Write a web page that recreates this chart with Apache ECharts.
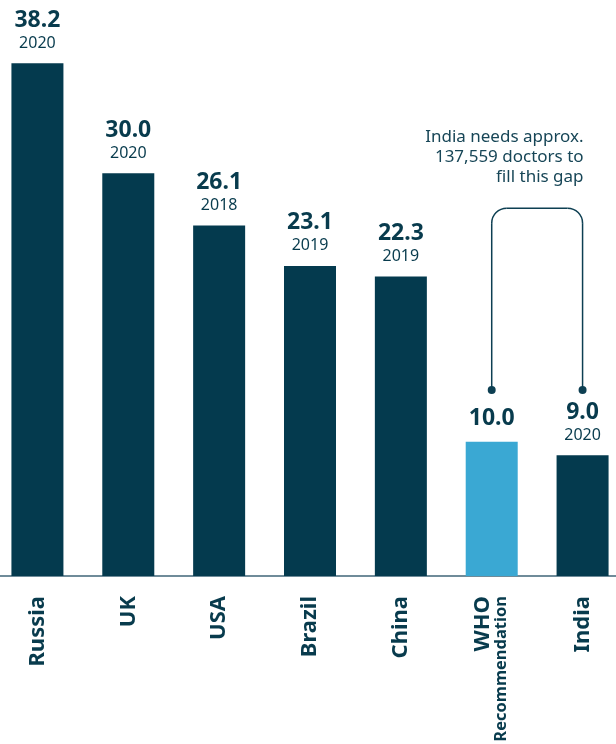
<!DOCTYPE html>
<html>
<head>
<meta charset="utf-8">
<script src="https://cdn.jsdelivr.net/npm/echarts@6/dist/echarts.min.js"></script>
<style>
  html, body { margin: 0; padding: 0; background: #fff; }
  #main { width: 616px; height: 744px; }
</style>
</head>
<body>
<div id="main"></div>
<script>
// doctors per 10,000 people
var countries = ['Russia', 'UK', 'USA', 'Brazil', 'China', 'WHO', 'India'];
var values = [38.2, 30.0, 26.1, 23.1, 22.3, 10.0, 9.0];
var years = ['2020', '2020', '2018', '2019', '2019', '', '2020'];
var note_lines = ['India needs approx.', '137,559 doctors to', 'fill this gap'];

var dark = '#043a4e';
var light = '#3aa8d3';
var text_col = '#083b4d';
var line_col = '#0d3f52';

var chart = echarts.init(document.getElementById('main'));

var bar_data = [];
for (var i = 0; i < values.length; i++) {
    bar_data.push({
        value: values[i],
        itemStyle: { color: countries[i] === 'WHO' ? light : dark }
    });
}

var option = {
    animation: false,
    grid: { left: -8, right: -12, top: 39, bottom: 168, containLabel: false, outerBoundsMode: 'none' },
    xAxis: {
        type: 'category',
        data: countries,
        axisLine: { lineStyle: { color: '#3f6577', width: 1.5 } },
        axisTick: { show: false },
        axisLabel: {
            rotate: 90,
            margin: 20,
            interval: 0,
            color: text_col,
            fontFamily: 'Noto Sans',
            fontWeight: 'bold',
            fontSize: 22,
            formatter: function (v) {
                if (v === 'WHO') return '{a|WHO}\n{b|Recommendation}';
                return v;
            },
            rich: {
                a: { fontFamily: 'Noto Sans', fontWeight: 'bold', fontSize: 22, color: text_col, lineHeight: 20 },
                b: { fontFamily: 'Noto Sans', fontWeight: 'bold', fontSize: 16.5, color: text_col, lineHeight: 18 }
            }
        }
    },
    yAxis: {
        type: 'value',
        min: 0,
        max: 40,
        show: false,
        splitLine: { show: false }
    },
    series: [{
        type: 'bar',
        barWidth: 52,
        data: bar_data,
        label: {
            show: true,
            position: 'top',
            distance: 10,
            formatter: function (p) {
                var y = years[p.dataIndex];
                var s = '{v|' + values[p.dataIndex].toFixed(1) + '}';
                if (y) s += '\n{y|' + y + '}';
                return s;
            },
            rich: {
                v: { fontFamily: 'Noto Sans', fontWeight: 'bold', fontSize: 23, color: text_col, lineHeight: 26, align: 'center' },
                y: { fontFamily: 'Noto Sans', fontSize: 16, color: text_col, lineHeight: 20, align: 'center' }
            }
        }
    }]
};
chart.setOption(option);

// bracket annotation between WHO and India, placed through the axes
var top_val = 27.4, dot_val = 13.85, note_val = 33.45;
var pa = chart.convertToPixel({ seriesIndex: 0 }, ['WHO', dot_val]);
var pb = chart.convertToPixel({ seriesIndex: 0 }, ['India', dot_val]);
var pt = chart.convertToPixel({ seriesIndex: 0 }, ['WHO', top_val]);
var pn = chart.convertToPixel({ seriesIndex: 0 }, ['India', note_val]);
var r = 15;
var x1 = pa[0], x2 = pb[0], yb = pa[1], yt = pt[1];
var lstyle = { stroke: line_col, lineWidth: 1.5, fill: null };

chart.setOption({
    graphic: [
        { type: 'line', shape: { x1: x1, y1: yb, x2: x1, y2: yt + r }, style: lstyle },
        { type: 'arc', shape: { cx: x1 + r, cy: yt + r, r: r, startAngle: Math.PI, endAngle: Math.PI * 1.5, clockwise: true }, style: lstyle },
        { type: 'line', shape: { x1: x1 + r, y1: yt, x2: x2 - r, y2: yt }, style: lstyle },
        { type: 'arc', shape: { cx: x2 - r, cy: yt + r, r: r, startAngle: Math.PI * 1.5, endAngle: Math.PI * 2, clockwise: true }, style: lstyle },
        { type: 'line', shape: { x1: x2, y1: yt + r, x2: x2, y2: yb }, style: lstyle },
        { type: 'circle', shape: { cx: x1, cy: yb, r: 4 }, style: { fill: line_col } },
        { type: 'circle', shape: { cx: x2, cy: yb, r: 4 }, style: { fill: line_col } },
        {
            type: 'text',
            x: pn[0] + 1,
            y: pn[1],
            style: {
                text: note_lines.join('\n'),
                align: 'right',
                verticalAlign: 'top',
                fontFamily: 'Noto Sans',
                fontSize: 17,
                lineHeight: 20,
                fill: '#174657'
            }
        }
    ]
});
</script>
</body>
</html>
